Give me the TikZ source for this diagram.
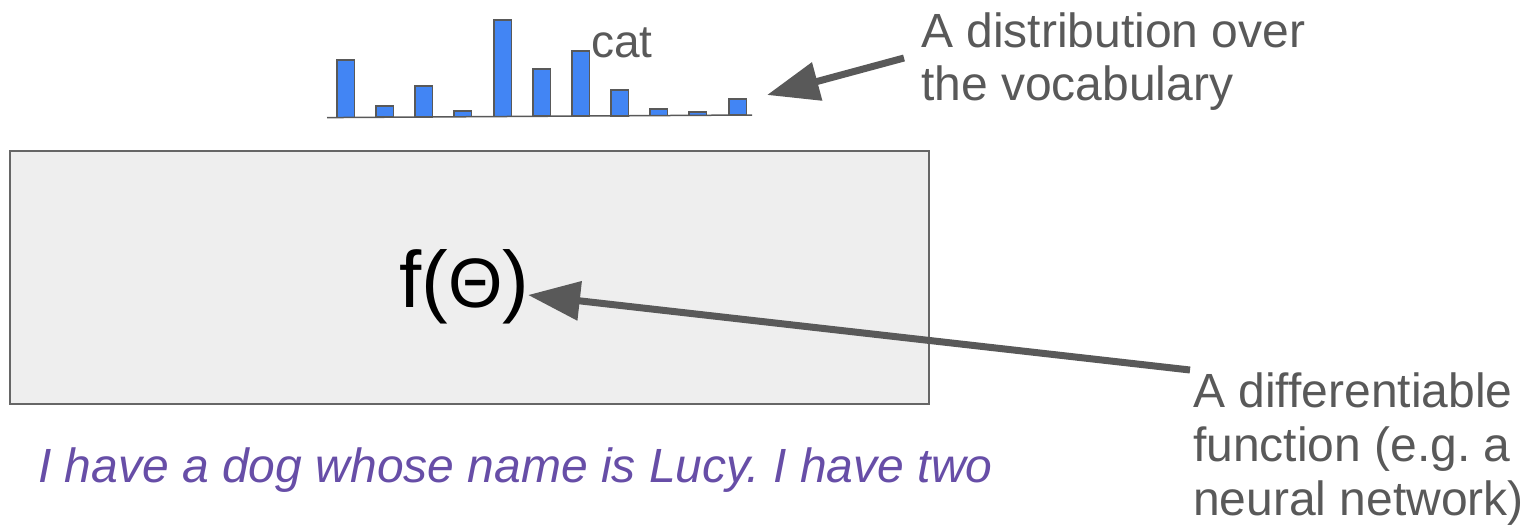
\documentclass[tikz,border=0pt]{standalone}
\usepackage{fontspec}
\setmainfont{Liberation Sans}
\usetikzlibrary{arrows.meta}
\frenchspacing
\definecolor{txtgray}{HTML}{595959}
\definecolor{boxfill}{HTML}{EEEEEE}
\definecolor{boxline}{HTML}{666666}
\definecolor{barblue}{HTML}{4285F4}
\definecolor{purp}{HTML}{674EA7}
\begin{document}
\begin{tikzpicture}[x=1pt,y=-1pt,
  lbl/.style={inner sep=0pt, align=left, text=txtgray, font=\fontsize{48}{54}\selectfont},
  bigarrow/.style={draw=txtgray, line width=7pt, -{Triangle[length=52pt,width=38pt]}},
  bar/.style={draw=txtgray, line width=1.5pt, fill=barblue},
  fbox/.style={draw=boxline, line width=2pt, fill=boxfill}]
\useasboundingbox (0,0) rectangle (1527,530);
% model box
\draw[fbox] (10,151) rectangle (928.5,404);
\node[inner sep=0pt, anchor=base west, font=\fontsize{80}{84}\selectfont] (f) at (399,307) {f({\fontsize{70}{72}\selectfont Θ})};
% bars
\foreach \x/\t in {337/60, 376/106, 415/86, 454/111, 494/20, 533/69, 572/51, 611/90, 650/109, 689/112, 729/99}{
  \pgfmathsetmacro{\b}{117.5-(\x+9-327)*0.0059}
  \draw[bar] (\x,\b) rectangle (\x+17.5,\t);
}
\draw[txtgray, line width=1.5pt] (327,117.6) -- (752,115);
\node[lbl, anchor=base west, font=\fontsize{46}{54}\selectfont] (cat) at (591,57) {cat};
% labels
\node[lbl, anchor=base west, font=\fontsize{48}{53}\selectfont] (dist) at (921,100) {A distribution over\\the vocabulary};
\node[lbl, anchor=base west] (diff) at (1193,515) {A differentiable\\function (e.g. a\\neural network)};
\node[inner sep=0pt, anchor=base west, text=purp, font=\fontsize{48}{54}\selectfont\itshape] (sent) at (38,482) {I have a dog whose name is Lucy. I have two};
% arrows
\coordinate (a1s) at (904,58);
\coordinate (a1e) at (767,95);
\coordinate (a2s) at (1190,370);
\coordinate (a2e) at (528,295);
\draw[bigarrow] (a1s) -- (a1e);
\draw[bigarrow] (a2s) -- (a2e);
\end{tikzpicture}
\end{document}
